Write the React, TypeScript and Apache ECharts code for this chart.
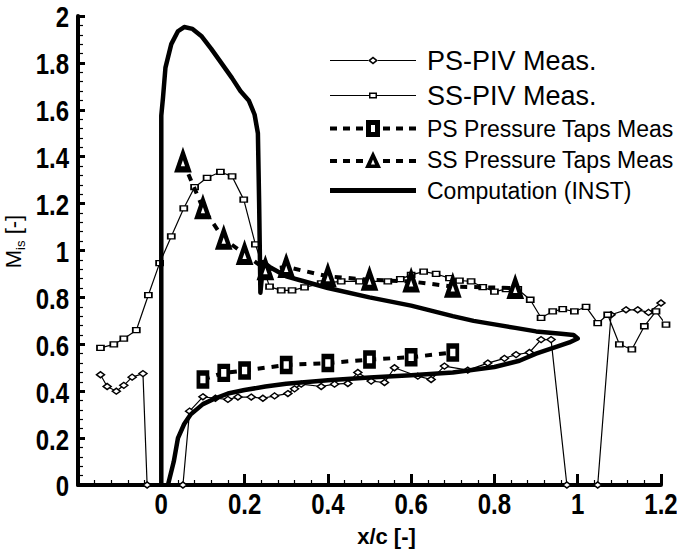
import React, { useEffect, useRef } from 'react';
import * as echarts from 'echarts';

// ---- data (x/c, Mis) ----
const psPiv: number[][] = [
  [-0.146, 0.47], [-0.13, 0.42], [-0.108, 0.4], [-0.09, 0.425], [-0.07, 0.46], [-0.044, 0.475],
  [-0.034, 0.0], [0.052, 0.0], [0.068, 0.315], [0.1, 0.376], [0.13, 0.37], [0.16, 0.365],
  [0.184, 0.375], [0.216, 0.375], [0.244, 0.37], [0.272, 0.38], [0.304, 0.39], [0.32, 0.41],
  [0.336, 0.43], [0.384, 0.42], [0.416, 0.43], [0.448, 0.433], [0.472, 0.48], [0.504, 0.443],
  [0.536, 0.437], [0.56, 0.5], [0.616, 0.464], [0.648, 0.45], [0.68, 0.507], [0.736, 0.49],
  [0.784, 0.52], [0.824, 0.54], [0.852, 0.556], [0.884, 0.565], [0.912, 0.62], [0.936, 0.62],
  [0.974, 0.0], [1.048, 0.0], [1.08, 0.726], [1.116, 0.747], [1.144, 0.747], [1.17, 0.736],
  [1.2, 0.776],
];

const ssPiv: number[][] = [
  [-0.146, 0.585], [-0.114, 0.6], [-0.09, 0.624], [-0.06, 0.66], [-0.031, 0.81], [-0.004, 0.946],
  [0.024, 1.06], [0.054, 1.18], [0.08, 1.27], [0.11, 1.31], [0.142, 1.335], [0.17, 1.316],
  [0.198, 1.217], [0.226, 1.026], [0.26, 0.846], [0.288, 0.83], [0.314, 0.83], [0.344, 0.843],
  [0.384, 0.86], [0.432, 0.868], [0.476, 0.868], [0.544, 0.868], [0.574, 0.878], [0.6, 0.896],
  [0.63, 0.91], [0.66, 0.9], [0.692, 0.882], [0.716, 0.872], [0.744, 0.868], [0.772, 0.844],
  [0.8, 0.825], [0.828, 0.835], [0.856, 0.835], [0.886, 0.79], [0.912, 0.713], [0.94, 0.74],
  [0.964, 0.75], [0.992, 0.74], [1.02, 0.76], [1.048, 0.69], [1.072, 0.726], [1.1, 0.6],
  [1.13, 0.578], [1.16, 0.677], [1.188, 0.74], [1.212, 0.684],
];

const psTaps: number[][] = [
  [0.1, 0.45], [0.15, 0.478], [0.2, 0.488], [0.3, 0.512], [0.4, 0.52], [0.5, 0.535],
  [0.6, 0.545], [0.7, 0.565],
];

const ssTaps: number[][] = [
  [0.052, 1.38], [0.1, 1.18], [0.15, 1.05], [0.2, 0.985], [0.25, 0.92], [0.3, 0.93],
  [0.4, 0.89], [0.5, 0.875], [0.6, 0.868], [0.7, 0.846], [0.85, 0.84],
];

const computation: number[][] = [
  [0.016, 0.0], [0.03, 0.1], [0.04, 0.2], [0.055, 0.26], [0.07, 0.3], [0.1, 0.345],
  [0.13, 0.37], [0.16, 0.39], [0.2, 0.405], [0.25, 0.42], [0.3, 0.432], [0.4, 0.447],
  [0.5, 0.458], [0.6, 0.468], [0.7, 0.48], [0.8, 0.503], [0.86, 0.53], [0.9, 0.56],
  [0.95, 0.59], [0.98, 0.608], [1.0, 0.625], [0.99, 0.64], [0.96, 0.645], [0.9, 0.655],
  [0.85, 0.67], [0.8, 0.685], [0.75, 0.7], [0.7, 0.72], [0.6, 0.765], [0.5, 0.8],
  [0.4, 0.84], [0.34, 0.87], [0.3, 0.89], [0.26, 0.93], [0.245, 0.95], [0.238, 0.82],
  [0.235, 1.2], [0.232, 1.5], [0.224, 1.58], [0.21, 1.64], [0.19, 1.68], [0.17, 1.735],
  [0.144, 1.8], [0.12, 1.86], [0.096, 1.915], [0.075, 1.945], [0.055, 1.953], [0.04, 1.935],
  [0.024, 1.88], [0.01, 1.78], [0.004, 1.65], [0.0, 1.575], [0.0, 0.0],
];

const seriesNames = [
  'PS-PIV Meas.',
  'SS-PIV Meas.',
  'PS Pressure Taps Meas',
  'SS Pressure Taps Meas',
  'Computation (INST)',
];

// tick labels
const xTickValues = [0, 0.2, 0.4, 0.6, 0.8, 1, 1.2];
const xTickLabels = ['0', '0.2', '0.4', '0.6', '0.8', '1', '1.2'];
const yTickValues = [0, 0.2, 0.4, 0.6, 0.8, 1, 1.2, 1.4, 1.6, 1.8, 2];
const yTickLabels = ['0', '0.2', '0.4', '0.6', '0.8', '1', '1.2', '1.4', '1.6', '1.8', '2'];

// legend icons (drawn 1:1)
const iconPsPiv =
  'path://M0,-0.6H38V0.6H0Z M48,-0.6H86V0.6H48Z M43,-4L48,0L43,4L38,0Z M43,-2L40.5,0L43,2L45.5,0Z';
const iconSsPiv =
  'path://M0,-0.6H39V0.6H0Z M47,-0.6H86V0.6H47Z M39,-3H47V3H39Z M40.5,-1.5V1.5H45.5V-1.5Z';
const iconPsTaps =
  'path://M0,-2H7V2H0Z M13,-2H20V2H13Z M26,-2H33V2H26Z M53,-2H60V2H53Z M66,-2H73V2H66Z M79,-2H86V2H79Z ' +
  'M36,-8.5H50V8.5H36Z M41,-3.5V3.5H45V-3.5Z';
const iconSsTaps =
  'path://M0,-0.5H7V3.5H0Z M13,-0.5H20V3.5H13Z M26,-0.5H33V3.5H26Z M53,-0.5H60V3.5H53Z M66,-0.5H73V3.5H66Z M79,-0.5H86V3.5H79Z ' +
  'M43,-8.5L51,8.5L35,8.5Z M43,0L41,5L45,5Z';
const iconComp = 'path://M0,-2.5H86V2.5H0Z';

const sans = '"Liberation Sans", Arial, sans-serif';
const tickFont = 'bold 30px "Liberation Sans", Arial, sans-serif';

export default function App() {
  const ref = useRef<HTMLDivElement>(null);
  useEffect(() => {
    if (!ref.current) return;
    const chart = echarts.init(ref.current, undefined, { renderer: 'svg' });
    const axisCommon = {
      type: 'value' as const,
      splitLine: { show: false },
      axisLine: { show: true, onZero: false, lineStyle: { color: '#000', width: 4 } },
      axisLabel: { show: false },
      minorTick: { show: true, splitNumber: 5, length: 5, lineStyle: { color: '#000', width: 1.2 } },
    };
    chart.setOption({
      animation: false,
      backgroundColor: '#fff',
      grid: { left: 78, right: 16, top: 16, bottom: 66, containLabel: false, outerBoundsMode: 'none' },
      xAxis: {
        ...axisCommon,
        min: -0.2,
        max: 1.2,
        interval: 0.2,
        axisTick: { show: true, inside: true, length: 11, lineStyle: { color: '#000', width: 3 } },
        name: 'x/c [-]',
        nameLocation: 'middle',
        nameGap: 40,
        nameTextStyle: {
          color: '#000',
          fontFamily: sans,
          fontWeight: 'bold',
          fontSize: 22,
          padding: [0, 0, 0, 34],
        },
      },
      yAxis: {
        ...axisCommon,
        min: 0,
        max: 2,
        interval: 0.2,
        axisTick: { show: true, inside: true, length: 7, lineStyle: { color: '#000', width: 3 } },
        name: '{m|M}{s|is}{m| [-]}',
        nameLocation: 'middle',
        nameGap: 51,
        nameTextStyle: {
          color: '#000',
          fontFamily: sans,
          padding: [0, 0, 0, 18],
          rich: {
            m: { fontSize: 22, fontFamily: sans, color: '#000', verticalAlign: 'middle', lineHeight: 28 },
            s: { fontSize: 13, fontFamily: sans, color: '#000', verticalAlign: 'bottom', lineHeight: 28 },
          },
        },
      },
      legend: {
        orient: 'vertical',
        left: 325,
        top: 42,
        itemWidth: 86,
        itemHeight: 25,
        itemGap: 8,
        selectedMode: false,
        itemStyle: { color: '#000', borderColor: '#000', borderWidth: 0, opacity: 1 },
        textStyle: { color: '#000', fontFamily: sans, fontSize: 23, padding: [0, 0, 0, 6] },
        data: [
          { name: seriesNames[0], icon: iconPsPiv, textStyle: { fontSize: 27 } },
          { name: seriesNames[1], icon: iconSsPiv, textStyle: { fontSize: 27 } },
          { name: seriesNames[2], icon: iconPsTaps },
          { name: seriesNames[3], icon: iconSsTaps },
          { name: seriesNames[4], icon: iconComp },
        ],
      },
      series: [
        {
          name: seriesNames[0],
          type: 'line',
          data: psPiv,
          z: 2,
          symbol: 'diamond',
          symbolSize: [8, 6],
          lineStyle: { color: '#000', width: 1.2 },
          itemStyle: { color: '#fff', borderColor: '#000', borderWidth: 1.5 },
        },
        {
          name: seriesNames[1],
          type: 'line',
          data: ssPiv,
          z: 2,
          clip: false,
          symbol: 'rect',
          symbolSize: [7, 5],
          lineStyle: { color: '#000', width: 1.2 },
          itemStyle: { color: '#fff', borderColor: '#000', borderWidth: 1.5 },
        },
        {
          name: seriesNames[2],
          type: 'line',
          data: psTaps,
          z: 4,
          symbol: 'rect',
          symbolSize: [9, 13],
          lineStyle: { color: '#000', width: 4, type: [7, 7] },
          itemStyle: { color: '#fff', borderColor: '#000', borderWidth: 4.5 },
        },
        {
          name: seriesNames[3],
          type: 'line',
          data: ssTaps,
          z: 4,
          symbol: 'triangle',
          symbolSize: [11, 16],
          lineStyle: { color: '#000', width: 4, type: [7, 7] },
          itemStyle: { color: '#fff', borderColor: '#000', borderWidth: 5 },
        },
        {
          name: seriesNames[4],
          type: 'line',
          data: computation,
          z: 3,
          showSymbol: false,
          symbol: 'none',
          lineStyle: { color: '#000', width: 4.5, join: 'round' },
          itemStyle: { color: '#000' },
        },
      ],
    });

    // condensed bold tick labels placed through the axes' own scales
    const labels: any[] = [];
    xTickValues.forEach((v, i) => {
      const [px, py] = chart.convertToPixel({ gridIndex: 0 }, [v, 0]) as number[];
      labels.push({
        type: 'text',
        x: px,
        y: py + 19,
        scaleX: 0.8,
        silent: true,
        style: { text: xTickLabels[i], font: tickFont, fill: '#000', align: 'center', verticalAlign: 'middle' },
      });
    });
    yTickValues.forEach((v, i) => {
      const [px, py] = chart.convertToPixel({ gridIndex: 0 }, [-0.2, v]) as number[];
      labels.push({
        type: 'text',
        x: px - 9,
        y: py + 1,
        scaleX: 0.8,
        silent: true,
        style: { text: yTickLabels[i], font: tickFont, fill: '#000', align: 'right', verticalAlign: 'middle' },
      });
    });
    chart.setOption({ graphic: labels });

    return () => chart.dispose();
  }, []);
  return (
    <div
      ref={ref}
      style={{ position: 'absolute', left: 0, top: 0, width: 677, height: 551, background: '#fff' }}
    />
  );
}
